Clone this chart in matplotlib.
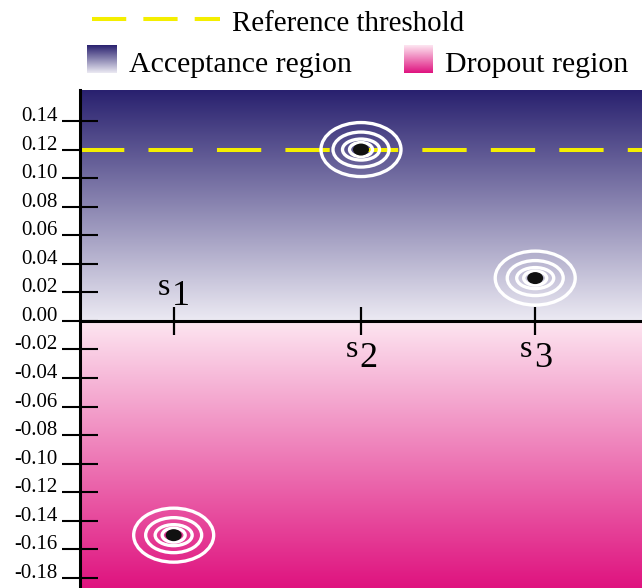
import numpy as np
import matplotlib.pyplot as plt
from matplotlib.colors import LinearSegmentedColormap
from matplotlib.patches import Ellipse
from matplotlib.lines import Line2D
from matplotlib.transforms import ScaledTranslation

plt.rcParams['font.family'] = ['Liberation Serif', 'DejaVu Serif']
plt.rcParams['axes.unicode_minus'] = False

# Data
sample_names = ['1', '2', '3']
sample_pos = [1.0, 2.0, 2.93]
sample_vals = [-0.15, 0.12, 0.03]
threshold = 0.12
yticks = [-0.18, -0.16, -0.14, -0.12, -0.10, -0.08, -0.06, -0.04, -0.02,
          0.00, 0.02, 0.04, 0.06, 0.08, 0.10, 0.12, 0.14]
ylim = (-0.187, 0.1617)
xlim = (0.5, 3.5)

navy = '#29216f'
pale_blue = '#eceaf3'
pale_pink = '#fde6f1'
magenta = '#df137f'
yellow = '#f4ee00'

accept_cmap = LinearSegmentedColormap.from_list('accept', [pale_blue, navy])
drop_cmap = LinearSegmentedColormap.from_list('drop', [pale_pink, magenta])
grad = np.linspace(0, 1, 256).reshape(-1, 1)

W, H = 642, 588
fig = plt.figure(figsize=(W / 100, H / 100), dpi=100)
ax = fig.add_axes([80 / W, 0, (W - 80) / W, (H - 90) / H])

# background regions
ax.imshow(grad, extent=[xlim[0], xlim[1], 0, ylim[1]], origin='lower',
          aspect='auto', cmap=accept_cmap, zorder=0)
ax.imshow(grad, extent=[xlim[0], xlim[1], ylim[0], 0], origin='upper',
          aspect='auto', cmap=drop_cmap, zorder=0)
ax.set_xlim(*xlim)
ax.set_ylim(*ylim)

# axes styling
for side in ['top', 'right', 'bottom']:
    ax.spines[side].set_visible(False)
ax.spines['left'].set_linewidth(2.2)
ax.spines['left'].set_zorder(5)
ax.set_xticks([])
ax.set_yticks(yticks)
ax.set_yticklabels(['%.2f' % t for t in yticks])
ax.tick_params(axis='y', direction='inout', length=26, width=1.5, pad=3,
               labelsize=15)
for lab in ax.get_yticklabels():
    lab.set_va('baseline')

# zero line and sample ticks
ax.axhline(0, color='black', lw=2.2, zorder=3)
ax.plot(sample_pos, [0] * len(sample_pos), ls='none', marker='|', ms=20,
        mew=1.6, color='black', zorder=3)

# threshold
ax.axhline(threshold, color=yellow, lw=2.9, dashes=(11, 6), zorder=2)

# sample labels (opposite side of the point)
for name, x, v in zip(sample_names, sample_pos, sample_vals):
    if v < 0:
        s_dy, d_dy = 26, 16
    else:
        s_dy, d_dy = -36, -46
    ax.annotate('s', (x, 0), xytext=(-9.5 * 0.72, s_dy * 0.72),
                textcoords='offset points', ha='center', va='baseline',
                fontsize=23, zorder=4)
    ax.annotate(name, (x, 0), xytext=(7.5 * 0.72, d_dy * 0.72),
                textcoords='offset points', ha='center', va='baseline',
                fontsize=26, zorder=4)

# target markers
rings = [(80, 54), (56, 35), (37, 21), (23, 14)]
for x, v in zip(sample_pos, sample_vals):
    tr = fig.dpi_scale_trans + ScaledTranslation(x, v, ax.transData)
    for w, h in rings:
        ax.add_patch(Ellipse((0, 0), w / 100, h / 100, transform=tr,
                             fill=False, ec='white', lw=2.4, zorder=6))
    ax.add_patch(Ellipse((0, 0), 16 / 100, 12 / 100, transform=tr,
                         fc='#111111', ec='none', zorder=7))

# legend drawn by hand in figure space
fig.add_artist(Line2D([92 / W, 220 / W], [1 - 19 / H] * 2,
                      transform=fig.transFigure, color=yellow, lw=2.9,
                      dashes=(8.5, 4.25)))
fig.text(232 / W, 1 - 31 / H, 'Reference threshold', fontsize=20.8,
         va='baseline')
sq1 = fig.add_axes([87 / W, 1 - 73 / H, 30 / W, 28 / H])
sq1.imshow(grad, origin='lower', aspect='auto', cmap=accept_cmap)
sq1.axis('off')
fig.text(129 / W, 1 - 72 / H, 'Acceptance region', fontsize=21.5,
         va='baseline')
sq2 = fig.add_axes([404 / W, 1 - 73 / H, 29 / W, 28 / H])
sq2.imshow(grad, origin='upper', aspect='auto', cmap=drop_cmap)
sq2.axis('off')
fig.text(445 / W, 1 - 72 / H, 'Dropout region', fontsize=21.5,
         va='baseline')

fig.savefig('out.png', dpi=100)
